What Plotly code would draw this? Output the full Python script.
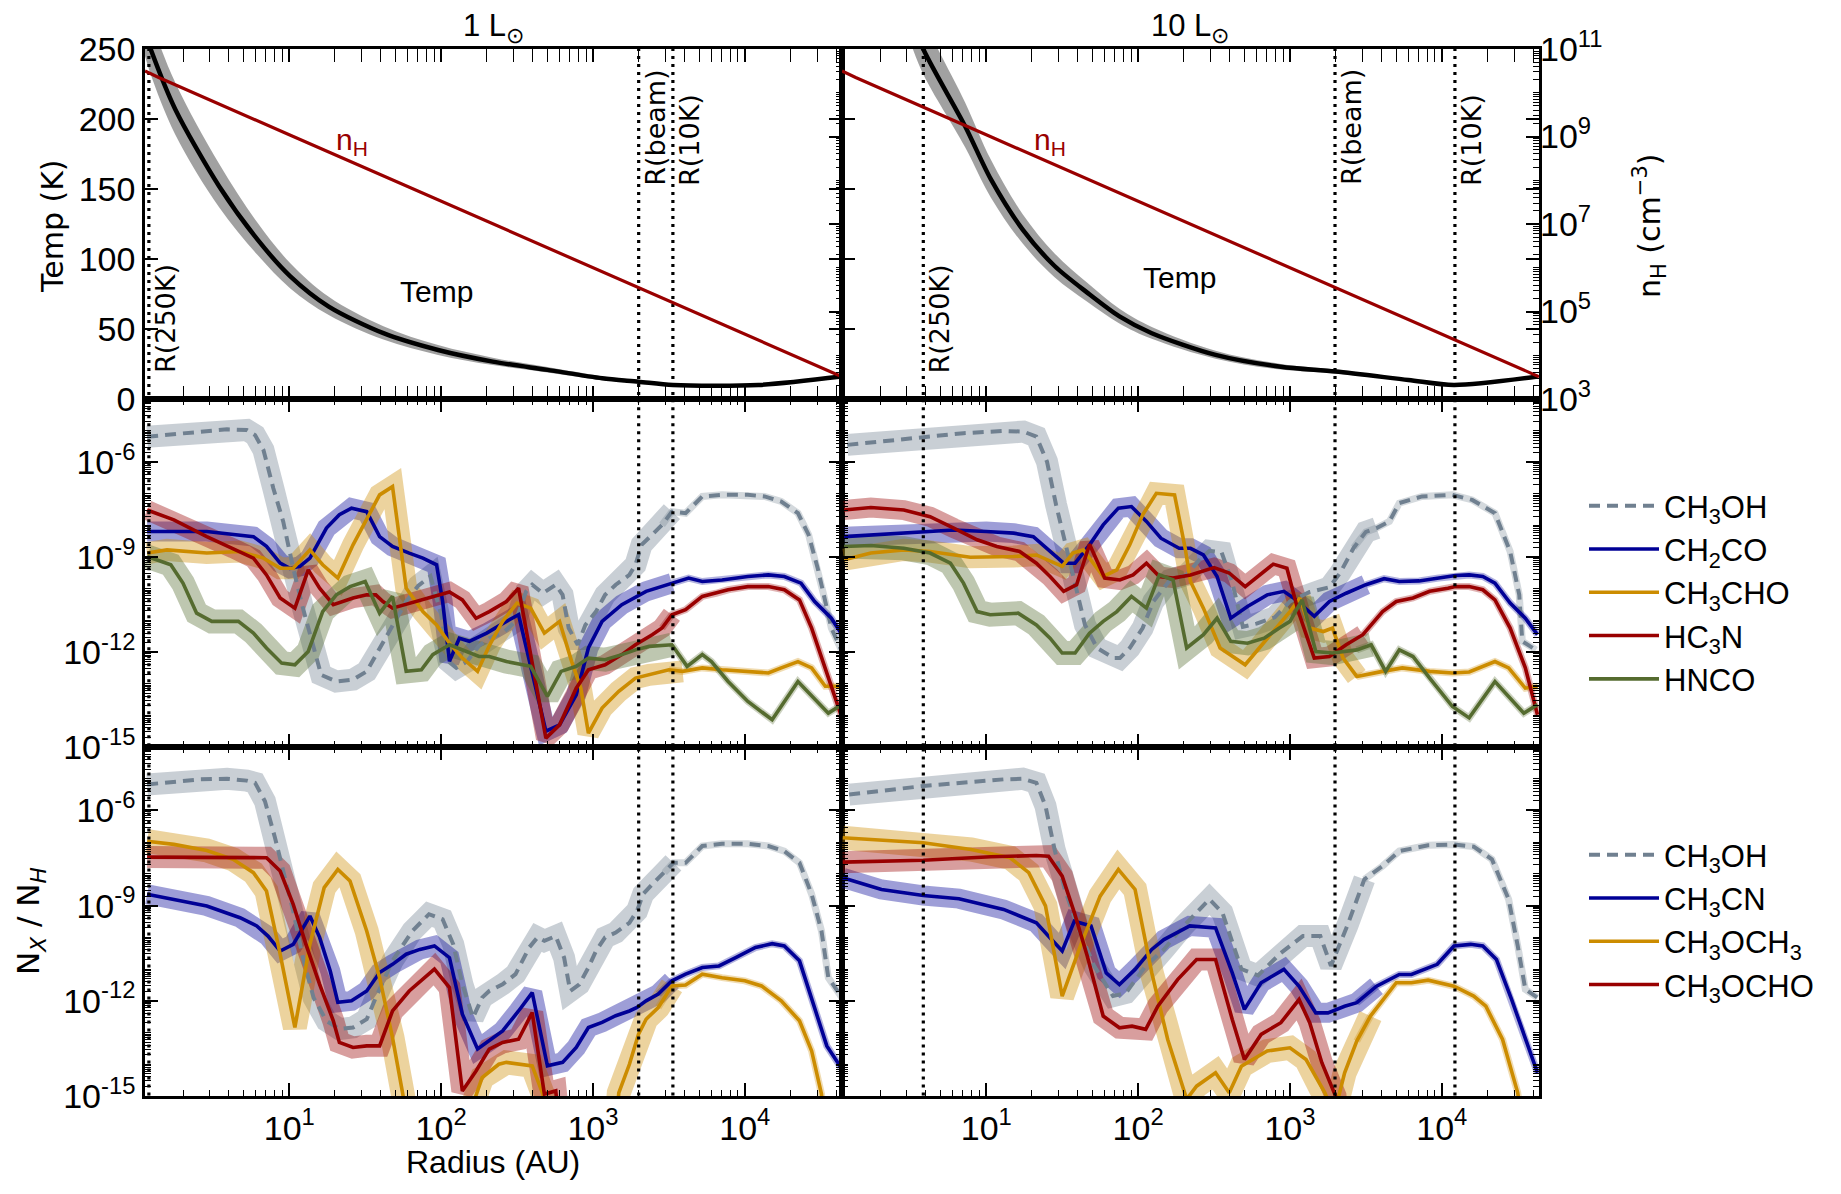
import numpy as np
import plotly.graph_objects as go

# ---------------------------------------------------------------- data
# top row: temperature (K) and density (log10 cm^-3) vs log10 radius (AU)
TL_LOGR = [0.05, 0.087, 0.249, 0.538, 0.79, 1.007, 1.26, 1.62, 1.98, 2.34, 2.70, 3.06, 3.30, 3.527, 4.09, 4.635]
TL_T = [262, 250, 207, 152, 114, 87.6, 66, 47, 35, 26.7, 20.8, 14.8, 12.4, 10, 10, 16]
TL_T_HI = [280, 270, 226, 168, 126, 97, 73, 52, 38.5, 29.5, 22.8, 16.3, 13.5, 10.8, 10, 16]
TL_T_LO = [245, 232, 189, 137, 103, 79, 60, 42.5, 31.5, 24.2, 19.0, 13.5, 11.4, 9.6, 10, 16]

TR_LOGR = [0.5, 0.585, 0.86, 1.03, 1.24, 1.45, 1.665, 1.877, 2.09, 2.51, 2.94, 3.30, 3.78, 4.08, 4.63]
TR_T = [275, 250, 195, 157, 121, 95, 76, 59, 47, 31.5, 23, 19.6, 13.6, 10, 16]
TR_T_HI = [300, 272, 212, 171, 132, 104, 83, 64.5, 51.5, 34.5, 25, 21, 14.5, 10.5, 16]
TR_T_LO = [255, 232, 180, 144, 111, 87, 69.5, 54, 43, 28.8, 21, 18.2, 12.8, 9.8, 16]

NH_LOGR = [0.05, 0.14, 1.0, 2.0, 3.3, 4.64]
NH_LOGN = [10.5, 10.35, 9.04, 7.52, 5.54, 3.51]

# characteristic radii (AU): R(250K), R(beam), R(10K)
R_LINES_L = [1.19, 2000, 3360]
R_LINES_R = [3.85, 1980, 12200]
R_LABELS = ["R(250K)", "R(beam)", "R(10K)"]

# middle row, left (1 Lsun): log10 radius, log10 abundance
ML_CH3OH_R = [0.064, 0.24, 0.41, 0.59, 0.72, 0.775, 0.83, 0.895, 0.96, 1.026, 1.09, 1.16, 1.21, 1.31, 1.42, 1.51, 1.595, 1.68, 1.77, 1.85, 1.93, 2.0, 2.05, 2.10, 2.17, 2.25, 2.317, 2.405, 2.49, 2.56, 2.60, 2.67, 2.755, 2.80, 2.84, 2.90, 2.95, 3.02, 3.08, 3.15, 3.24, 3.28, 3.32, 3.39, 3.455, 3.52, 3.61, 3.72, 3.85, 4.02, 4.13, 4.24, 4.35, 4.42, 4.48, 4.53, 4.57, 4.64]
ML_CH3OH_X = [-5.19, -5.12, -5.03, -4.96, -4.98, -5.14, -5.61, -6.82, -7.87, -9.35, -10.61, -11.87, -12.72, -12.93, -12.87, -12.61, -11.87, -11.14, -10.4, -9.9, -9.6, -10.8, -12.3, -12.5, -12.3, -11.8, -11.56, -11.4, -11.03, -10.08, -9.87, -10.14, -9.87, -10.19, -11.24, -11.77, -11.14, -10.72, -10.19, -9.87, -9.56, -9.24, -8.61, -8.29, -7.98, -7.56, -7.61, -7.08, -7.03, -7.03, -7.08, -7.24, -7.61, -8.29, -9.35, -10.4, -11.24, -11.98]
ML_CH2CO_R = [0.064, 0.457, 0.764, 0.85, 0.94, 1.004, 1.07, 1.136, 1.245, 1.33, 1.41, 1.51, 1.595, 1.68, 1.79, 1.88, 1.97, 2.01, 2.055, 2.12, 2.186, 2.30, 2.43, 2.51, 2.69, 2.78, 2.89, 2.97, 3.06, 3.19, 3.35, 3.52, 3.63, 3.72, 3.85, 4.02, 4.155, 4.26, 4.37, 4.46, 4.57, 4.64]
ML_CH2CO_X = [-8.19, -8.19, -8.35, -8.66, -9.19, -9.35, -9.29, -9.03, -8.08, -7.66, -7.45, -7.56, -8.35, -8.66, -8.87, -9.03, -9.24, -10.4, -12.29, -11.56, -11.66, -11.4, -11.03, -10.82, -14.5, -14.3, -13.35, -11.87, -11.03, -10.5, -10.08, -9.82, -9.66, -9.77, -9.72, -9.61, -9.56, -9.61, -9.82, -10.4, -10.93, -11.45]
ML_CH3CHO_R = [0.064, 0.195, 0.457, 0.676, 0.83, 0.94, 1.026, 1.136, 1.22, 1.32, 1.42, 1.51, 1.595, 1.68, 1.77, 1.88, 1.97, 2.055, 2.14, 2.24, 2.32, 2.405, 2.50, 2.59, 2.68, 2.78, 2.86, 2.92, 2.97, 3.06, 3.17, 3.28, 3.37, 3.50, 3.59, 3.72, 3.85, 4.0, 4.155, 4.24, 4.35, 4.44, 4.53, 4.64]
ML_CH3CHO_X = [-8.87, -8.77, -8.87, -8.82, -9.03, -9.35, -9.35, -8.77, -9.24, -9.66, -8.61, -7.77, -7.03, -6.77, -9.98, -10.72, -11.14, -11.72, -12.19, -12.61, -11.77, -11.03, -10.45, -10.61, -11.4, -11.03, -12.3, -13.14, -14.56, -13.77, -13.24, -12.82, -12.72, -12.56, -12.61, -12.5, -12.56, -12.61, -12.66, -12.5, -12.3, -12.5, -13.08, -13.08]
ML_HC3N_R = [0.064, 0.24, 0.457, 0.63, 0.764, 0.85, 0.94, 1.037, 1.125, 1.20, 1.29, 1.42, 1.51, 1.57, 1.617, 1.68, 1.836, 1.99, 2.055, 2.14, 2.23, 2.317, 2.43, 2.51, 2.69, 2.78, 2.89, 2.97, 3.08, 3.19, 3.28, 3.39, 3.455, 3.52, 3.61, 3.72, 3.81, 3.89, 4.02, 4.155, 4.26, 4.36, 4.44, 4.53, 4.64]
ML_HC3N_X = [-7.51, -7.82, -8.35, -8.72, -9.03, -9.56, -10.29, -10.61, -9.4, -9.98, -10.5, -10.29, -10.19, -10.19, -10.4, -10.61, -10.4, -10.19, -10.1, -10.35, -10.93, -10.72, -10.4, -9.98, -14.72, -14.3, -13.14, -12.56, -12.4, -12.08, -11.77, -11.45, -11.24, -10.82, -10.66, -10.24, -10.14, -10.03, -9.93, -9.93, -10.03, -10.35, -11.24, -12.5, -14.08]
ML_HNCO_R = [0.064, 0.22, 0.30, 0.39, 0.49, 0.665, 0.764, 0.85, 0.95, 1.037, 1.125, 1.22, 1.31, 1.40, 1.50, 1.595, 1.68, 1.77, 1.87, 1.945, 2.055, 2.16, 2.25, 2.317, 2.43, 2.59, 2.70, 2.79, 2.89, 2.97, 3.08, 3.19, 3.28, 3.37, 3.52, 3.62, 3.72, 3.78, 3.89, 4.02, 4.18, 4.35, 4.55, 4.64]
ML_HNCO_X = [-8.98, -9.24, -9.82, -10.77, -11.03, -11.03, -11.4, -11.87, -12.35, -12.4, -11.98, -10.72, -10.19, -9.93, -9.77, -10.77, -10.24, -12.61, -12.56, -12.08, -11.77, -11.98, -12.14, -12.14, -12.3, -12.45, -13.4, -12.61, -12.45, -12.19, -12.24, -12.08, -11.93, -11.82, -11.77, -12.45, -12.08, -12.3, -12.93, -13.56, -14.14, -12.93, -13.93, -13.66]

# middle row, right (10 Lsun)
MR_CH3OH_R = [0.085, 0.30, 0.567, 0.85, 1.11, 1.245, 1.33, 1.40, 1.46, 1.53, 1.595, 1.65, 1.73, 1.84, 1.88, 1.945, 2.03, 2.10, 2.21, 2.32, 2.40, 2.47, 2.55, 2.62, 2.69, 2.78, 2.9, 3.0, 3.13, 3.26, 3.33, 3.42, 3.50, 3.57, 3.655, 3.72, 3.87, 4.07, 4.2, 4.35, 4.45, 4.51, 4.53, 4.62]
MR_CH3OH_X = [-5.45, -5.35, -5.22, -5.08, -5.01, -5.03, -5.19, -5.98, -7.35, -8.72, -10.08, -11.14, -11.87, -12.19, -12.19, -11.87, -11.24, -10.4, -9.72, -9.56, -9.1, -8.8, -8.85, -9.8, -11.2, -11.1, -10.9, -10.4, -10.1, -9.95, -9.5, -8.7, -8.2, -8.08, -7.87, -7.29, -7.08, -7.03, -7.19, -7.61, -8.82, -10.19, -11.66, -11.93]
MR_CH2CO_R = [0.064, 0.457, 0.786, 1.0, 1.18, 1.31, 1.42, 1.51, 1.585, 1.68, 1.77, 1.87, 1.956, 2.055, 2.15, 2.27, 2.345, 2.43, 2.52, 2.61, 2.72, 2.85, 2.96, 3.04, 3.16, 3.26, 3.37, 3.50, 3.62, 3.72, 3.85, 3.98, 4.09, 4.18, 4.27, 4.35, 4.45, 4.55, 4.63]
MR_CH2CO_X = [-8.35, -8.24, -8.14, -8.19, -8.24, -8.35, -8.82, -9.19, -9.19, -8.61, -7.98, -7.45, -7.4, -7.87, -8.4, -8.72, -8.72, -8.93, -9.61, -10.93, -10.56, -10.19, -10.08, -10.35, -10.87, -10.4, -10.14, -9.87, -9.68, -9.77, -9.75, -9.66, -9.58, -9.56, -9.61, -9.82, -10.45, -10.93, -11.45]
MR_CH3CHO_R = [0.064, 0.24, 0.457, 0.63, 0.895, 1.18, 1.33, 1.50, 1.57, 1.64, 1.77, 1.86, 1.945, 2.03, 2.12, 2.24, 2.31, 2.345, 2.43, 2.54, 2.705, 2.80, 2.91, 3.0, 3.065, 3.13, 3.22, 3.28, 3.35, 3.44, 3.61, 3.74, 3.92, 4.07, 4.18, 4.35, 4.44, 4.55, 4.63]
MR_CH3CHO_X = [-9.08, -8.87, -8.77, -8.82, -9.0, -8.98, -8.93, -9.29, -8.87, -8.77, -9.61, -9.4, -8.61, -7.66, -6.98, -7.03, -8.72, -9.77, -10.61, -11.87, -12.4, -11.87, -11.24, -10.72, -10.29, -11.24, -11.35, -11.24, -12.19, -12.77, -12.61, -12.5, -12.61, -12.66, -12.63, -12.3, -12.5, -13.14, -13.08]
MR_HC3N_R = [0.064, 0.24, 0.457, 0.63, 0.786, 0.94, 1.07, 1.22, 1.33, 1.42, 1.51, 1.595, 1.68, 1.78, 1.88, 1.967, 2.055, 2.14, 2.23, 2.345, 2.50, 2.60, 2.705, 2.80, 2.89, 2.98, 3.055, 3.16, 3.26, 3.37, 3.48, 3.61, 3.70, 3.81, 3.92, 4.04, 4.09, 4.18, 4.27, 4.35, 4.45, 4.55, 4.63]
MR_HC3N_X = [-7.51, -7.43, -7.51, -7.72, -8.08, -8.45, -8.66, -8.82, -9.19, -9.61, -10.08, -9.87, -8.59, -9.66, -9.72, -9.56, -9.19, -9.61, -9.66, -9.56, -9.33, -9.5, -9.93, -9.56, -9.22, -9.35, -10.72, -12.19, -12.14, -11.77, -11.45, -10.72, -10.4, -10.29, -10.08, -9.98, -9.93, -9.93, -10.03, -10.35, -11.24, -12.5, -13.98]
MR_HNCO_R = [0.064, 0.24, 0.457, 0.63, 0.764, 0.85, 0.94, 1.026, 1.21, 1.33, 1.42, 1.50, 1.585, 1.68, 1.77, 1.86, 1.956, 2.055, 2.14, 2.23, 2.32, 2.43, 2.52, 2.61, 2.72, 2.83, 2.93, 3.0, 3.08, 3.17, 3.28, 3.44, 3.535, 3.63, 3.72, 3.81, 3.92, 4.07, 4.18, 4.35, 4.54, 4.63]
MR_HNCO_X = [-8.66, -8.63, -8.72, -8.87, -9.19, -9.82, -10.72, -10.82, -10.77, -11.14, -11.56, -12.03, -12.03, -11.4, -11.03, -10.72, -10.24, -10.61, -9.56, -9.72, -11.87, -11.45, -10.93, -11.66, -11.72, -11.56, -11.24, -11.03, -10.35, -11.98, -12.03, -11.93, -11.77, -12.61, -11.93, -12.14, -12.82, -13.72, -14.08, -12.93, -13.93, -13.66]

# bottom row, left (1 Lsun)
BL_CH3OH_R = [0.064, 0.24, 0.41, 0.59, 0.72, 0.775, 0.84, 0.906, 0.96, 1.026, 1.09, 1.16, 1.245, 1.33, 1.42, 1.51, 1.57, 1.68, 1.81, 1.92, 2.01, 2.08, 2.14, 2.21, 2.27, 2.317, 2.405, 2.49, 2.58, 2.635, 2.68, 2.755, 2.81, 2.85, 2.91, 2.97, 3.02, 3.08, 3.15, 3.24, 3.29, 3.33, 3.39, 3.47, 3.53, 3.61, 3.72, 3.85, 4.02, 4.155, 4.26, 4.36, 4.44, 4.505, 4.55, 4.64]
BL_CH3OH_X = [-5.18, -5.10, -5.02, -5.0, -5.06, -5.13, -5.71, -6.86, -7.91, -9.17, -10.64, -11.9, -12.63, -12.89, -12.84, -12.58, -11.9, -10.74, -9.8, -9.27, -9.43, -10.22, -11.48, -12.53, -11.9, -11.69, -11.48, -11.16, -10.32, -10.0, -10.11, -9.96, -10.64, -11.69, -11.48, -10.95, -10.43, -10.0, -9.85, -9.54, -9.17, -8.64, -8.33, -7.96, -7.65, -7.65, -7.12, -7.05, -7.05, -7.12, -7.28, -7.65, -8.64, -9.8, -11.27, -11.9]
BL_CH3CN_R = [0.064, 0.24, 0.457, 0.676, 0.786, 0.86, 0.94, 1.026, 1.136, 1.20, 1.27, 1.32, 1.41, 1.51, 1.595, 1.68, 1.77, 1.86, 1.956, 2.055, 2.14, 2.24, 2.32, 2.405, 2.51, 2.60, 2.70, 2.80, 2.89, 2.97, 3.06, 3.15, 3.24, 3.29, 3.35, 3.43, 3.52, 3.61, 3.72, 3.83, 3.94, 4.07, 4.18, 4.26, 4.36, 4.44, 4.54, 4.64]
BL_CH3CN_X = [-8.64, -8.8, -9.01, -9.38, -9.64, -9.96, -10.43, -10.22, -9.33, -10.0, -11.06, -12.05, -12.0, -11.69, -11.11, -10.85, -10.53, -10.38, -10.27, -10.64, -12.42, -13.52, -13.26, -12.95, -12.32, -11.74, -14.05, -13.94, -13.47, -12.84, -12.68, -12.47, -12.32, -12.21, -12.0, -11.79, -11.37, -11.16, -10.95, -10.9, -10.64, -10.32, -10.2, -10.27, -10.74, -11.9, -13.42, -14.15]
BL_CH3OCH3_R = [0.064, 0.24, 0.457, 0.63, 0.764, 0.85, 0.94, 1.037, 1.136, 1.23, 1.32, 1.40, 1.51, 1.595, 1.68, 1.75, 1.80, 2.17, 2.21, 2.27, 2.38, 2.43, 2.60, 2.67, 2.72, 3.12, 3.17, 3.24, 3.30, 3.35, 3.43, 3.52, 3.61, 3.72, 3.85, 4.0, 4.11, 4.24, 4.36, 4.44, 4.505, 4.56]
BL_CH3OCH3_X = [-6.97, -7.07, -7.26, -7.54, -7.96, -8.54, -10.53, -12.84, -10.22, -8.43, -7.86, -8.22, -9.8, -11.27, -13.16, -15.0, -18, -18, -15.26, -14.42, -14.0, -13.94, -14.05, -14.94, -18, -18, -14.9, -14.0, -13.05, -12.58, -12.21, -11.53, -11.5, -11.16, -11.27, -11.37, -11.53, -12.0, -12.63, -13.58, -14.94, -18]
BL_CH3OCHO_R = [0.064, 0.457, 0.85, 0.94, 1.026, 1.11, 1.20, 1.29, 1.33, 1.42, 1.51, 1.595, 1.68, 1.79, 1.956, 2.055, 2.14, 2.23, 2.317, 2.405, 2.51, 2.60, 2.68, 2.755, 2.82]
BL_CH3OCHO_X = [-7.47, -7.47, -7.49, -7.91, -8.96, -10.22, -11.48, -12.63, -13.31, -13.47, -13.42, -13.42, -12.32, -11.69, -11.0, -11.58, -14.84, -14.21, -13.52, -13.31, -13.21, -12.37, -14.94, -14.84, -18]

# bottom row, right (10 Lsun)
BR_CH3OH_R = [0.097, 0.585, 1.114, 1.24, 1.33, 1.39, 1.45, 1.517, 1.60, 1.71, 1.835, 1.92, 2.05, 2.17, 2.30, 2.47, 2.555, 2.68, 2.79, 2.94, 3.085, 3.20, 3.27, 3.38, 3.49, 3.61, 3.72, 3.91, 4.08, 4.21, 4.33, 4.44, 4.50, 4.55, 4.63]
BR_CH3OH_X = [-5.5, -5.23, -5.02, -5.0, -5.13, -5.86, -7.23, -8.49, -9.64, -10.9, -11.85, -11.75, -10.9, -10.38, -9.64, -8.8, -9.22, -11.0, -11.2, -10.49, -9.96, -9.96, -10.9, -9.6, -8.17, -7.75, -7.28, -7.1, -7.07, -7.14, -7.54, -8.8, -10.27, -11.64, -11.9]
BR_CH3CN_R = [0.055, 0.31, 0.585, 0.82, 1.114, 1.33, 1.43, 1.50, 1.58, 1.69, 1.79, 1.877, 1.98, 2.09, 2.17, 2.34, 2.51, 2.62, 2.70, 2.81, 2.96, 3.06, 3.17, 3.25, 3.36, 3.44, 3.57, 3.72, 3.80, 3.97, 4.08, 4.19, 4.27, 4.36, 4.46, 4.55, 4.63]
BR_CH3CN_X = [-8.12, -8.49, -8.68, -8.78, -9.12, -9.54, -10.07, -10.43, -9.49, -9.64, -11.12, -11.49, -11.01, -10.38, -10.07, -9.64, -9.7, -11.12, -12.27, -11.43, -11.01, -11.54, -12.38, -12.38, -12.17, -12.06, -11.54, -11.17, -11.17, -10.85, -10.27, -10.22, -10.27, -10.7, -11.96, -13.22, -14.27]
BR_CH3OCH3_R = [0.055, 0.585, 0.90, 1.157, 1.28, 1.39, 1.50, 1.62, 1.75, 1.87, 1.98, 2.09, 2.195, 2.32, 2.385, 2.51, 2.60, 2.68, 2.85, 3.0, 3.106, 3.23, 3.29, 3.36, 3.44, 3.53, 3.70, 3.80, 3.91, 4.08, 4.21, 4.29, 4.40, 4.50, 4.56]
BR_CH3OCH3_X = [-6.86, -7.02, -7.23, -7.49, -7.96, -9.01, -11.85, -10.27, -8.7, -7.86, -8.49, -11.12, -13.22, -15.1, -14.69, -14.27, -14.9, -14.06, -13.58, -13.48, -13.85, -14.9, -15.6, -14.27, -13.27, -12.48, -11.43, -11.43, -11.35, -11.54, -11.85, -12.17, -13.22, -14.9, -17]
BR_CH3OCHO_R = [0.055, 0.585, 1.03, 1.33, 1.41, 1.50, 1.58, 1.665, 1.77, 1.877, 1.96, 2.05, 2.13, 2.26, 2.385, 2.51, 2.62, 2.70, 2.81, 2.94, 3.06, 3.13, 3.21, 3.30, 3.36]
BR_CH3OCHO_X = [-7.63, -7.57, -7.46, -7.42, -7.44, -8.07, -9.22, -10.59, -12.48, -12.85, -12.8, -12.9, -12.17, -11.33, -10.7, -10.7, -12.59, -13.85, -13.06, -12.69, -11.96, -12.69, -13.95, -15.0, -18]

MID_NAMES = ["CH<sub>3</sub>OH", "CH<sub>2</sub>CO", "CH<sub>3</sub>CHO", "HC<sub>3</sub>N", "HNCO"]
BOT_NAMES = ["CH<sub>3</sub>OH", "CH<sub>3</sub>CN", "CH<sub>3</sub>OCH<sub>3</sub>", "CH<sub>3</sub>OCHO"]

# ---------------------------------------------------------------- style
FT = "Liberation Sans, Arial, sans-serif"
FD = "DejaVu Sans, sans-serif"
W, H = 1841, 1194
C_OH = (112, 128, 144)
C_BLUE = (0, 0, 150)
C_GOLD = (204, 140, 0)
C_RED = (153, 0, 0)
C_GREEN = (85, 107, 47)


def rgb(c, a=1.0):
    return "rgba(%d,%d,%d,%.3f)" % (c[0], c[1], c[2], a)


fig = go.Figure()


def p10(a):
    return np.power(10.0, np.asarray(a, dtype=float))


def band(lr, lx, col, xa, ya, wide=18, cut=3.5):
    lr = np.asarray(lr, float)
    lx = np.asarray(lx, float)
    inner = lr <= cut + 0.09
    outer = lr >= cut - 0.09
    fig.add_trace(go.Scatter(x=p10(lr[inner]), y=p10(lx[inner]), mode="lines",
                             line=dict(color=rgb(col, 0.38), width=wide),
                             xaxis=xa, yaxis=ya, showlegend=False, hoverinfo="skip"))
    fig.add_trace(go.Scatter(x=p10(lr[outer]), y=p10(lx[outer]), mode="lines",
                             line=dict(color=rgb(col, 0.30), width=7),
                             xaxis=xa, yaxis=ya, showlegend=False, hoverinfo="skip"))


def line(lr, lx, col, xa, ya, name, legend, show, dash=None):
    ln = dict(color=rgb(col), width=3.6)
    if dash:
        ln["dash"] = dash
        ln["width"] = 4
    fig.add_trace(go.Scatter(x=p10(lr), y=p10(lx), mode="lines", line=ln, name=name,
                             xaxis=xa, yaxis=ya, showlegend=show, legend=legend,
                             hoverinfo="skip"))


# ---------------------------------------------------------------- top row
for lr, t, hi, lo, xa, ya in [(TL_LOGR, TL_T, TL_T_HI, TL_T_LO, "x", "y"),
                              (TR_LOGR, TR_T, TR_T_HI, TR_T_LO, "x2", "y2")]:
    rr = list(p10(lr))
    fig.add_trace(go.Scatter(x=rr + rr[::-1], y=list(hi) + list(lo)[::-1], fill="toself",
                             fillcolor="rgba(135,135,135,0.78)", line=dict(width=0, shape="spline"),
                             mode="lines", xaxis=xa, yaxis=ya, showlegend=False, hoverinfo="skip"))
    fig.add_trace(go.Scatter(x=rr, y=t, mode="lines",
                             line=dict(color="black", width=4.5, shape="spline", smoothing=0.8),
                             xaxis=xa, yaxis=ya, showlegend=False, hoverinfo="skip"))

for xa, ya in [("x", "y7"), ("x2", "y8")]:
    fig.add_trace(go.Scatter(x=p10(NH_LOGR), y=p10(NH_LOGN), mode="lines",
                             line=dict(color=rgb(C_RED), width=3.2),
                             xaxis=xa, yaxis=ya, showlegend=False, hoverinfo="skip"))

# ---------------------------------------------------------------- middle + bottom rows
mid_sets = {
    "L": [(ML_CH3OH_R, ML_CH3OH_X), (ML_CH2CO_R, ML_CH2CO_X), (ML_CH3CHO_R, ML_CH3CHO_X),
          (ML_HC3N_R, ML_HC3N_X), (ML_HNCO_R, ML_HNCO_X)],
    "R": [(MR_CH3OH_R, MR_CH3OH_X), (MR_CH2CO_R, MR_CH2CO_X), (MR_CH3CHO_R, MR_CH3CHO_X),
          (MR_HC3N_R, MR_HC3N_X), (MR_HNCO_R, MR_HNCO_X)],
}
bot_sets = {
    "L": [(BL_CH3OH_R, BL_CH3OH_X), (BL_CH3CN_R, BL_CH3CN_X), (BL_CH3OCH3_R, BL_CH3OCH3_X),
          (BL_CH3OCHO_R, BL_CH3OCHO_X)],
    "R": [(BR_CH3OH_R, BR_CH3OH_X), (BR_CH3CN_R, BR_CH3CN_X), (BR_CH3OCH3_R, BR_CH3OCH3_X),
          (BR_CH3OCHO_R, BR_CH3OCHO_X)],
}
mid_cols = [C_OH, C_BLUE, C_GOLD, C_RED, C_GREEN]
bot_cols = [C_OH, C_BLUE, C_GOLD, C_RED]
mid_wide = [22, 20, 22, 20, 24]
bot_wide = [22, 20, 24, 22]

for side, xa, ya in [("L", "x3", "y3"), ("R", "x4", "y4")]:
    for (lr, lx), c, wd in zip(mid_sets[side], mid_cols, mid_wide):
        band(lr, lx, c, xa, ya, wide=wd)
    for i, ((lr, lx), c) in enumerate(zip(mid_sets[side], mid_cols)):
        line(lr, lx, c, xa, ya, MID_NAMES[i], "legend", side == "L",
             dash="11px,7px" if i == 0 else None)

for side, xa, ya in [("L", "x5", "y5"), ("R", "x6", "y6")]:
    for (lr, lx), c, wd in zip(bot_sets[side], bot_cols, bot_wide):
        band(lr, lx, c, xa, ya, wide=wd)
    for i, ((lr, lx), c) in enumerate(zip(bot_sets[side], bot_cols)):
        line(lr, lx, c, xa, ya, BOT_NAMES[i], "legend2", side == "L",
             dash="11px,7px" if i == 0 else None)

# ---------------------------------------------------------------- dotted radius markers
for side, rlist in [("L", R_LINES_L), ("R", R_LINES_R)]:
    axes = [("x", "y", [-20, 300]), ("x3", "y3", [1e-17, 1e-2]), ("x5", "y5", [1e-17, 1e-2])]
    if side == "R":
        axes = [("x2", "y2", [-20, 300]), ("x4", "y4", [1e-17, 1e-2]), ("x6", "y6", [1e-17, 1e-2])]
    for rv in rlist:
        for xa, ya, yy in axes:
            fig.add_trace(go.Scatter(x=[rv, rv], y=yy, mode="lines",
                                     line=dict(color="black", width=3.2, dash="3px,5px"),
                                     xaxis=xa, yaxis=ya, showlegend=False, hoverinfo="skip"))

# ---------------------------------------------------------------- axes
XL = [145 / W, 842 / W]
XR = [842 / W, 1539 / W]
Y1 = [1 - 399 / H, 1 - 49 / H]
Y2 = [1 - 747 / H, 1 - 399 / H]
Y3 = [1 - 1096 / H, 1 - 747 / H]

xmaj = [10, 100, 1000, 10000]
xtxt = ["10<sup>%d</sup>" % k for k in range(1, 5)]
xmin = [m * 10 ** e for e in range(0, 5) for m in range(2, 10)]
ymaj = [1e-15, 1e-12, 1e-9, 1e-6]
ytxt = ["10<sup>-15</sup>", "10<sup>-12</sup>", "10<sup>-9</sup>", "10<sup>-6</sup>"]
ymin = [m * 10.0 ** e for e in range(-15, -4) for m in range(1, 10) if not (m == 1 and e in (-15, -12, -9, -6))]
nmaj = [1e3, 1e5, 1e7, 1e9, 1e11]
ntxt = ["10<sup>%d</sup>" % k for k in (3, 5, 7, 9, 11)]
nmin = [m * 10.0 ** e for e in range(3, 11) for m in range(1, 10) if not (m == 1 and e in (3, 5, 7, 9))]

TF = dict(family=FT, size=34, color="black")
common = dict(showline=True, linecolor="black", linewidth=2.6, mirror="allticks",
              ticks="inside", ticklen=13, tickwidth=1.6, tickcolor="black",
              showgrid=False, zeroline=False, tickfont=TF, automargin=False)


def xax(dom, anchor, labels):
    d = dict(common)
    d.update(domain=dom, anchor=anchor, type="log", range=[0.05, 4.64], tickmode="array",
             tickvals=xmaj, ticktext=xtxt, showticklabels=labels,
             minor=dict(tickmode="array", tickvals=xmin, ticks="inside", ticklen=6,
                        tickwidth=1.2, tickcolor="black", showgrid=False))
    return d


def yax_log(dom, anchor, labels):
    d = dict(common)
    d.update(domain=dom, anchor=anchor, type="log", range=[-15, -4], tickmode="array",
             tickvals=ymaj, ticktext=ytxt, showticklabels=labels,
             minor=dict(tickmode="array", tickvals=ymin, ticks="inside", ticklen=6,
                        tickwidth=1.2, tickcolor="black", showgrid=False))
    return d


def yax_t(dom, anchor, labels):
    d = dict(common)
    d.update(domain=dom, anchor=anchor, range=[0, 250], tickmode="array",
             tickvals=[0, 50, 100, 150, 200, 250], showticklabels=labels)
    return d


def yax_n(over, anchor, labels):
    return dict(overlaying=over, anchor=anchor, side="right", type="log", range=[3, 11],
                tickmode="array", tickvals=nmaj, ticktext=ntxt, showticklabels=labels,
                ticks="inside", ticklen=13, tickwidth=1.6, tickcolor="black",
                showline=False, showgrid=False, zeroline=False, tickfont=TF, automargin=False,
                minor=dict(tickmode="array", tickvals=nmin, ticks="inside", ticklen=6,
                           tickwidth=1.2, tickcolor="black", showgrid=False))


fig.update_layout(
    width=W, height=H, margin=dict(l=0, r=0, t=0, b=0, pad=0, autoexpand=False),
    paper_bgcolor="white", plot_bgcolor="white",
    xaxis=xax(XL, "y", False), yaxis=yax_t(Y1, "x", True),
    xaxis2=xax(XR, "y2", False), yaxis2=yax_t(Y1, "x2", False),
    xaxis3=xax(XL, "y3", False), yaxis3=yax_log(Y2, "x3", True),
    xaxis4=xax(XR, "y4", False), yaxis4=yax_log(Y2, "x4", False),
    xaxis5=xax(XL, "y5", True), yaxis5=yax_log(Y3, "x5", True),
    xaxis6=xax(XR, "y6", True), yaxis6=yax_log(Y3, "x6", False),
    yaxis7=yax_n("y", "x", False), yaxis8=yax_n("y2", "x2", True),
    legend=dict(x=1584 / W, y=1 - 479 / H, xanchor="left", yanchor="top",
                font=dict(family=FT, size=31, color="black"), bgcolor="rgba(0,0,0,0)",
                itemwidth=70, tracegroupgap=0),
    legend2=dict(x=1584 / W, y=1 - 828 / H, xanchor="left", yanchor="top",
                 font=dict(family=FT, size=31, color="black"), bgcolor="rgba(0,0,0,0)",
                 itemwidth=70, tracegroupgap=0),
)

# ---------------------------------------------------------------- text
ann = []
ann.append(dict(text="1 L<sub>⊙</sub>", x=493 / W, y=1 - 28 / H, xref="paper", yref="paper",
                xanchor="center", yanchor="middle",
                showarrow=False, font=dict(family=FT, size=31, color="black")))
ann.append(dict(text="10 L<sub>⊙</sub>", x=1190 / W, y=1 - 28 / H, xref="paper", yref="paper",
                xanchor="center", yanchor="middle",
                showarrow=False, font=dict(family=FT, size=31, color="black")))
ann.append(dict(text="Temp (K)", x=52 / W, y=1 - 226 / H, xref="paper", yref="paper",
                xanchor="center", yanchor="middle",
                textangle=-90, showarrow=False, font=dict(family=FD, size=30, color="black")))
ann.append(dict(text="n<sub>H</sub> (cm<sup>−3</sup>)", x=1649 / W, y=1 - 226 / H, xref="paper",
                yref="paper", xanchor="center", yanchor="middle", textangle=-90, showarrow=False,
                font=dict(family=FD, size=30, color="black")))
ann.append(dict(text="N<sub><i>X</i></sub> / N<sub><i>H</i></sub>", x=30 / W, y=1 - 921 / H,
                xref="paper", yref="paper", xanchor="center", yanchor="middle",
                textangle=-90, showarrow=False,
                font=dict(family=FD, size=31, color="black")))
ann.append(dict(text="Radius (AU)", x=493 / W, y=1 - 1162 / H, xref="paper", yref="paper",
                xanchor="center", yanchor="middle",
                showarrow=False, font=dict(family=FT, size=32, color="black")))
# in-panel labels
for xa, ya, lt, ln in [("x", "y", 1.967, 1.41), ("x2", "y2", 2.27, 1.42)]:
    ann.append(dict(text="Temp", x=lt, y=77 if xa == "x" else 87, xref=xa, yref=ya,
                    showarrow=False, font=dict(family=FT, size=30, color="black")))
    ann.append(dict(text="n<sub>H</sub>", x=ln, y=184, xref=xa, yref=ya, showarrow=False,
                    font=dict(family=FT, size=30, color=rgb(C_RED))))
# radius marker labels
for xa, ya, rlist in [("x", "y", R_LINES_L), ("x2", "y2", R_LINES_R)]:
    for rv, lab in zip(rlist, R_LABELS):
        ybot = 17 if lab == "R(250K)" else 151
        ann.append(dict(text=lab, x=float(np.log10(rv)), y=ybot, xref=xa, yref=ya,
                        xanchor="left", yanchor="bottom", textangle=-90, showarrow=False,
                        xshift=-1, font=dict(family=FD, size=27, color="black")))
fig.update_layout(annotations=ann)

fig.write_html("out.html")
